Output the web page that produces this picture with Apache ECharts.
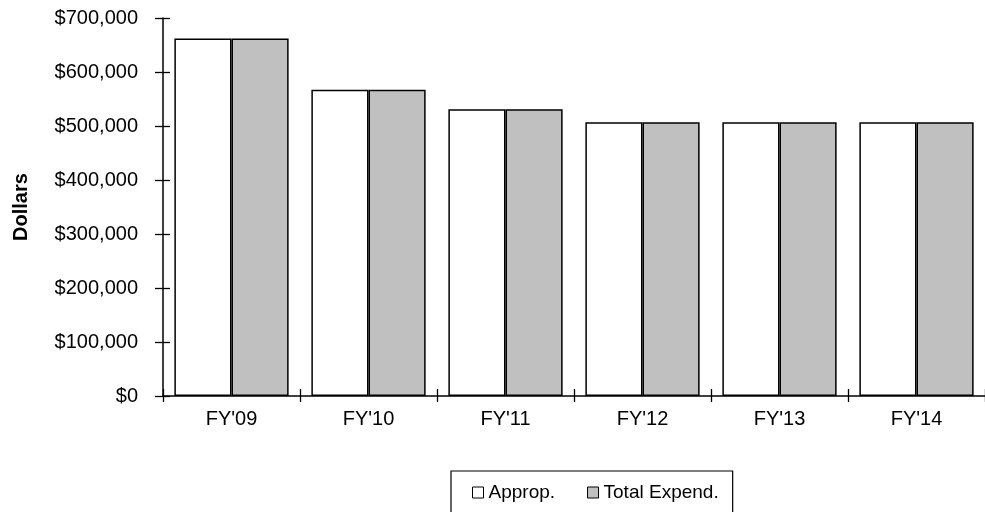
<!DOCTYPE html>
<html>
<head>
<meta charset="utf-8">
<script src="https://cdn.jsdelivr.net/npm/echarts@6/dist/echarts.min.js"></script>
<style>html,body{margin:0;padding:0;background:#fff;}#chart{width:985px;height:512px;}</style>
</head>
<body>
<div id="chart"></div>
<script>
const categories = ["FY'09", "FY'10", "FY'11", "FY'12", "FY'13", "FY'14"];
const approp = [662000, 567000, 531000, 507000, 507000, 507000];
const totalExpend = [662000, 567000, 531000, 507000, 507000, 507000];
const seriesNames = ['Approp.', 'Total Expend.'];
const yAxisTitle = 'Dollars';

const FONT = '"Liberation Sans", Arial, sans-serif';
const chart = echarts.init(document.getElementById('chart'), null, {renderer: 'canvas'});
const fmt = v => '$' + Number(v).toLocaleString('en-US');

chart.setOption({
  animation: false,
  backgroundColor: '#ffffff',
  grid: {left: 163, right: -7, top: 18, bottom: 116, containLabel: false},
  legend: {
    left: 451, top: 471,
    padding: [12, 14, 40, 21],
    borderColor: '#000', borderWidth: 1.2,
    itemWidth: 11, itemHeight: 11, itemGap: 32,
    icon: 'rect',
    itemStyle: {borderWidth: 1},
    textStyle: {fontFamily: FONT, fontSize: 19, color: '#000'},
    data: seriesNames
  },
  xAxis: [{
    type: 'category', data: categories, position: 'bottom',
    axisLine: {lineStyle: {color: '#000', width: 1.5}},
    axisTick: {show: true, inside: false, length: 6, lineStyle: {color: '#000', width: 1.3}},
    axisLabel: {fontFamily: FONT, fontSize: 20, color: '#000', margin: 13},
    splitLine: {show: false}
  }, {
    type: 'category', data: categories, position: 'bottom', offset: 0,
    axisLine: {show: false},
    axisTick: {show: true, inside: true, length: 7, lineStyle: {color: '#000', width: 1.3}},
    axisLabel: {show: false},
    splitLine: {show: false}
  }],
  yAxis: [{
    type: 'value', min: 0, max: 700000, interval: 100000, position: 'left',
    name: yAxisTitle, nameLocation: 'middle', nameRotate: 90, nameGap: 132,
    nameTextStyle: {fontFamily: FONT, fontSize: 20, fontWeight: 'bold', color: '#000'},
    axisLine: {show: true, lineStyle: {color: '#000', width: 1.5}},
    axisTick: {show: true, inside: false, length: 8, lineStyle: {color: '#000', width: 1.3}},
    axisLabel: {fontFamily: FONT, fontSize: 20, color: '#000', margin: 25, formatter: fmt},
    splitLine: {show: false}
  }, {
    type: 'value', min: 0, max: 700000, interval: 100000, position: 'left', offset: 0,
    axisLine: {show: false},
    axisTick: {show: true, inside: true, length: 7, lineStyle: {color: '#000', width: 1.3}},
    axisLabel: {show: false},
    splitLine: {show: false}
  }],
  series: [{
    name: seriesNames[0], type: 'bar', data: approp,
    barGap: '0%', barCategoryGap: '16.6%',
    itemStyle: {color: '#ffffff', borderColor: '#000', borderWidth: 1.5}
  }, {
    name: seriesNames[1], type: 'bar', data: totalExpend,
    barGap: '0%', barCategoryGap: '16.6%',
    itemStyle: {color: '#c0c0c0', borderColor: '#000', borderWidth: 1.5}
  }]
});
</script>
</body>
</html>
